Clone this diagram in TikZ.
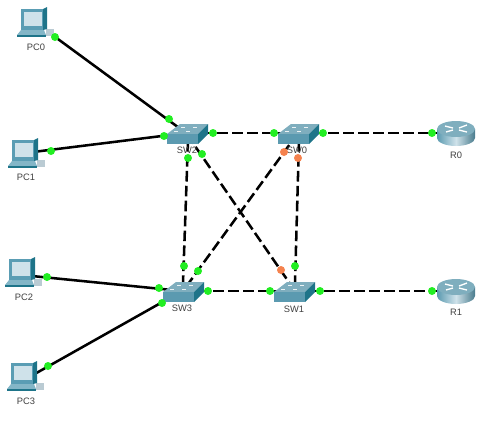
\documentclass[tikz,border=0pt]{standalone}
\usepackage{fontspec}
\setmainfont{Liberation Sans}
\usetikzlibrary{arrows.meta, positioning, calc}

\definecolor{swtop}{HTML}{7FAEBE}
\definecolor{swfront}{HTML}{5B9AB0}
\definecolor{swside}{HTML}{1E7489}
\definecolor{pcframe}{HTML}{5A9DB4}
\definecolor{pcscreen}{HTML}{CFE2EA}
\definecolor{linkon}{HTML}{22EE22}
\definecolor{linkwait}{HTML}{F5824E}

\tikzset{
  device/.style={inner sep=0pt, minimum size=2pt},
  devlabel/.style={font=\fontsize{7}{8}\selectfont, text=black!75, inner sep=0pt},
  cable/.style={line width=1.9pt, black},
  xcable/.style={cable, dash pattern=on 8pt off 3.2pt},
  porton/.style={circle, fill=linkon, inner sep=0pt, minimum size=6pt},
  portwait/.style={circle, fill=linkwait, inner sep=0pt, minimum size=6pt},
  pcicon/.pic={
    \fill[black!10!pcscreen] (12,7) rectangle (20,14);
    \fill[pcframe] (-13,-13) -- (10,-13) -- (10,8) -- (-13,8) -- cycle;
    \fill[pcscreen] (-10,-10) -- (8,-10) -- (8,4) -- (-10,4) -- cycle;
    \fill[swside] (9,-13) -- (13,-15) -- (13,7) -- (9,8) -- cycle;
    \fill[pcframe!75] (-13,8) -- (10,8) -- (12,13) -- (-17,13) -- cycle;
    \fill[swside] (-17,12.5) -- (12,12.5) -- (12,15) -- (-17,15) -- cycle;
  },
  switchicon/.pic={
    \fill[swtop] (-19,1) -- (12,1) -- (22,-9) -- (-6,-9) -- cycle;
    \fill[swfront] (-19,1) rectangle (12,11);
    \fill[swside] (12,1) -- (22,-9) -- (22,1) -- (12,11) -- cycle;
    \foreach \px/\py in {-10/-2, 2/-2, -3/-6, 9/-6}
      \fill[white!85!swtop] (\px-2,\py) rectangle (\px+2,\py+1);
  },
  routericon/.pic={
    \shade[left color=swfront, right color=swfront!80!black, middle color=pcscreen]
      (-19,-4) -- (-19,5) arc[start angle=180, end angle=360, x radius=19, y radius=-8]
      -- (19,-4) -- cycle;
    \fill[swtop] (0,-4) ellipse [x radius=19, y radius=8];
    \draw[white, line width=1pt] (-11,-7) -- (-3,-5) (11,-8) -- (3,-5)
      (-10,-1) -- (-3,-3) (11,-1) -- (3,-3);
  }
}

\begin{document}
\begin{tikzpicture}[x=0.75pt, y=-0.75pt]
  \useasboundingbox (0,0) rectangle (500,422);

  % devices
  \node[device] (PC0) at (34,22) {};
  \node[device] (PC1) at (25,153) {};
  \node[device] (PC2) at (22,272) {};
  \node[device] (PC3) at (24,376) {};
  \node[device] (SW2) at (186,133) {};
  \node[device] (SW0) at (297,133) {};
  \node[device] (SW3) at (182,291) {};
  \node[device] (SW1) at (293,291) {};
  \node[device] (R0) at (456,133) {};
  \node[device] (R1) at (456,291) {};

  % cables
  \draw[cable] (PC0) ++(13,9) -- (SW2);
  \draw[cable] (PC1) -- (SW2);
  \draw[cable] (PC2) ++(0,3) -- (SW3);
  \draw[cable] (PC3) ++(0,4) -- (SW3);
  \draw[xcable] (SW2) -- (SW0);
  \draw[xcable] (SW0) -- (R0);
  \draw[xcable] (SW3) -- (SW1);
  \draw[xcable] (SW1) -- (R1);
  \draw[xcable] ($(SW2)+(2,8)$) -- ($(SW3)+(1,-8)$);
  \draw[xcable] ($(SW0)+(2,8)$) -- ($(SW1)+(2,-8)$);
  \draw[xcable] (SW2) -- ($(SW1)+(2,0)$);
  \draw[xcable] ($(SW0)+(1,0)$) -- ($(SW3)+(1,0)$);

  % icons
  \foreach \n in {PC0,PC1,PC2,PC3} \pic at (\n) {pcicon};
  \foreach \n in {SW2,SW0,SW3,SW1} \pic at (\n) {switchicon};
  \foreach \n in {R0,R1} \pic at (\n) {routericon};

  \node[devlabel] (lpc0) at (36,47) {PC0};
  \node[devlabel] (lpc1) at (26,177) {PC1};
  \node[devlabel] (lpc2) at (24,297) {PC2};
  \node[devlabel] (lpc3) at (26,401) {PC3};
  \node[devlabel] (lsw2) at (187,150) {SW2};
  \node[devlabel] (lsw0) at (297,150) {SW0};
  \node[devlabel] (lsw3) at (182,308) {SW3};
  \node[devlabel] (lsw1) at (294,309) {SW1};
  \node[devlabel] (lr0) at (456,155) {R0};
  \node[devlabel] (lr1) at (456,312) {R1};

  % link lights
  \foreach \x/\y [count=\i] in {55/37, 51/151, 47/277, 48/366, 169/119, 164/136, 213/133,
      188/158, 202/154, 274/133, 323/133, 159/288, 162/303, 208/291, 184/266, 198/271,
      270/291, 320/291, 295/266, 432/133, 432/291}
    \node[porton] (on\i) at (\x,\y) {};
  \foreach \x/\y [count=\i] in {284/152, 298/158, 281/270}
    \node[portwait] (wait\i) at (\x,\y) {};
\end{tikzpicture}
\end{document}
